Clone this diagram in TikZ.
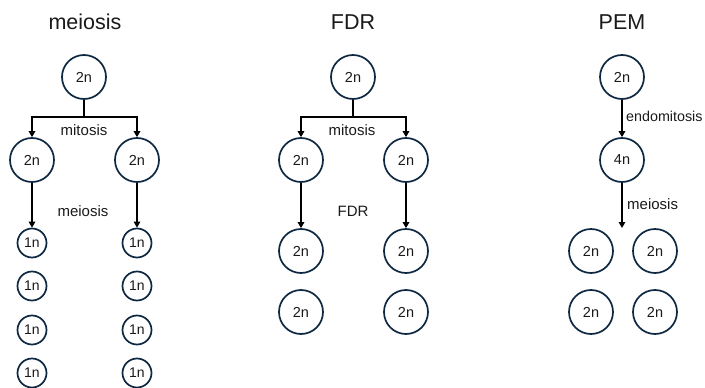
\documentclass[tikz,border=0pt]{standalone}
\usepackage{fontspec}
\setmainfont{Liberation Sans}
\usetikzlibrary{arrows.meta}
\definecolor{cellnavy}{HTML}{0E2841}
\definecolor{txtgray}{HTML}{1A1A1A}
\tikzset{
  cellbig/.style={circle,draw=cellnavy,line width=1.7pt,minimum size=44pt,inner sep=0pt,font=\fontsize{14.5}{15}\selectfont,text=txtgray},
  cellsmall/.style={circle,draw=cellnavy,line width=1.7pt,minimum size=29pt,inner sep=0pt,font=\fontsize{14}{15}\selectfont,text=txtgray},
  arr/.style={line width=1.6pt,-{Triangle[length=6pt,width=6.5pt]}},
  lbl/.style={font=\fontsize{15}{16}\selectfont,text=txtgray,inner sep=0pt},
  ttl/.style={font=\fontsize{21.5}{22}\selectfont,text=txtgray,inner sep=0pt}
}
\begin{document}
\begin{tikzpicture}[x=1pt,y=-1pt]
\useasboundingbox (0,0) rectangle (705,388);
% titles
\node[ttl] (t1) at (85,22) {meiosis};
\node[ttl] (t2) at (353,22) {FDR};
\node[ttl] (t3) at (622,22) {PEM};
% meiosis column
\node[cellbig] (a0) at (84,77) {2n};
\node[cellbig] (a1) at (32,160) {2n};
\node[cellbig] (a2) at (137,160) {2n};
\coordinate (ab) at (84,117);
\draw[line width=1.6pt] (a0.south) -- (ab);
\draw[arr] (ab) -| (a1.north);
\draw[arr] (ab) -| (a2.north);
\node[lbl] (am) at (84,130) {mitosis};
\foreach \y [count=\i] in {243,286,330,373}{
  \node[cellsmall] (al\i) at (32,\y) {1n};
  \node[cellsmall] (ar\i) at (137,\y) {1n};
}
\draw[arr] (a1.south) -- (al1.north);
\draw[arr] (a2.south) -- (ar1.north);
\node[lbl] (ame) at (83,211) {meiosis};
% FDR column
\node[cellbig] (b0) at (353,77) {2n};
\node[cellbig] (b1) at (301,160) {2n};
\node[cellbig] (b2) at (406,160) {2n};
\coordinate (bb) at (353,117);
\draw[line width=1.6pt] (b0.south) -- (bb);
\draw[arr] (bb) -| (b1.north);
\draw[arr] (bb) -| (b2.north);
\node[lbl] (bm) at (352,130) {mitosis};
\node[cellbig] (bl1) at (301,251) {2n};
\node[cellbig] (br1) at (406,251) {2n};
\node[cellbig] (bl2) at (301,312) {2n};
\node[cellbig] (br2) at (406,312) {2n};
\draw[arr] (b1.south) -- (bl1.north);
\draw[arr] (b2.south) -- (br1.north);
\node[lbl] (bf) at (353,211) {FDR};
% PEM column
\node[cellbig] (c0) at (622,77) {2n};
\node[cellbig] (c1) at (622,160) {4n};
\draw[arr] (c0.south) -- (c1.north);
\node[lbl,anchor=west,font=\fontsize{14.3}{15}\selectfont] (ce) at (626,116) {endomitosis};
\coordinate (cend) at (622,228);
\draw[arr] (c1.south) -- (cend);
\node[lbl,anchor=west] (cm) at (627,204) {meiosis};
\node[cellbig] (cl1) at (591,251) {2n};
\node[cellbig] (cr1) at (655,251) {2n};
\node[cellbig] (cl2) at (591,312) {2n};
\node[cellbig] (cr2) at (655,312) {2n};
\end{tikzpicture}
\end{document}
